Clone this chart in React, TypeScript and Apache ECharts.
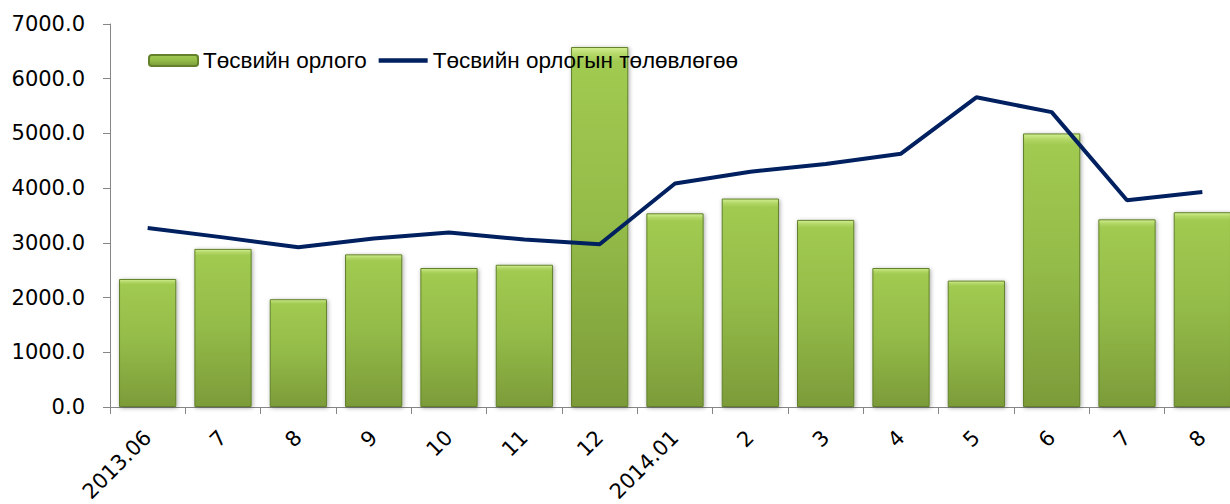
import React, { useEffect, useRef } from "react";
import * as echarts from "echarts";

const categories = ["2013.06", "7", "8", "9", "10", "11", "12", "2014.01", "2", "3", "4", "5", "6", "7", "8"];
const revenue = [2340, 2890, 1970, 2790, 2540, 2600, 6580, 3540, 3810, 3420, 2540, 2310, 5000, 3430, 3560];
const plan = [3270, 3100, 2920, 3080, 3190, 3060, 2975, 4085, 4300, 4440, 4630, 5660, 5390, 3780, 3930];
const seriesNames = ["Төсвийн орлого", "Төсвийн орлогын төлөвлөгөө"];

export default function App() {
  const ref = useRef<HTMLDivElement>(null);
  useEffect(() => {
    if (!ref.current) return;
    const chart = echarts.init(ref.current, null, { renderer: "svg" });
    const axisFont = "DejaVu Sans";
    chart.setOption({
      animation: false,
      backgroundColor: "#ffffff",
      grid: { left: 110, right: -10, top: 24, bottom: 97, outerBoundsMode: "none" },
      legend: {
        left: 148,
        top: 49,
        padding: 0,
        itemWidth: 49,
        itemHeight: 11,
        itemGap: 12,
        symbolKeepAspect: true,
        textStyle: { fontFamily: "Liberation Sans", fontSize: 22.5, color: "#000", lineHeight: 23 },
        data: [
          { name: seriesNames[0] },
          {
            name: seriesNames[1],
            icon: "path://M0,0 L52,0 L52,5 L0,5 Z",
            itemStyle: { color: "#002060" },
          },
        ],
      },
      xAxis: {
        type: "category",
        data: categories,
        boundaryGap: true,
        axisLine: { lineStyle: { color: "#868686", width: 1 } },
        axisTick: { show: true, length: 7, lineStyle: { color: "#868686" }, alignWithLabel: false },
        axisLabel: {
          interval: 0,
          rotate: 45,
          margin: 27,
          fontFamily: axisFont,
          fontSize: 21,
          color: "#000",
        },
        splitLine: { show: false },
      },
      yAxis: {
        type: "value",
        min: 0,
        max: 7000,
        interval: 1000,
        axisLine: { show: true, lineStyle: { color: "#868686", width: 1 } },
        axisTick: { show: true, length: 7, lineStyle: { color: "#868686" } },
        axisLabel: {
          margin: 25,
          fontFamily: axisFont,
          fontSize: 21,
          color: "#000",
          formatter: (v: number) => v.toFixed(1),
        },
        splitLine: { show: false },
      },
      series: [
        {
          name: seriesNames[0],
          type: "bar",
          data: revenue,
          barCategoryGap: "24%",
          itemStyle: {
            color: new echarts.graphic.LinearGradient(0, 0, 0, 1, [
              { offset: 0, color: "#d2ee92" },
              { offset: 0.02, color: "#b2d766" },
              { offset: 0.04, color: "#a1ca51" },
              { offset: 0.5, color: "#93bb48" },
              { offset: 1, color: "#7c9b39" },
            ]),
            borderColor: "#62812a",
            borderWidth: 1,
            shadowColor: "rgba(0,0,0,0.35)",
            shadowBlur: 4,
            shadowOffsetX: 1,
            shadowOffsetY: 1,
          },
        },
        {
          name: seriesNames[1],
          type: "line",
          data: plan,
          symbol: "none",
          z: 5,
          lineStyle: { color: "#002060", width: 4 },
          itemStyle: { color: "#002060" },
        },
      ],
    });
    return () => chart.dispose();
  }, []);
  return (
    <div
      ref={ref}
      style={{ position: "fixed", left: 0, top: 0, width: 1230, height: 504, background: "#fff" }}
    />
  );
}
